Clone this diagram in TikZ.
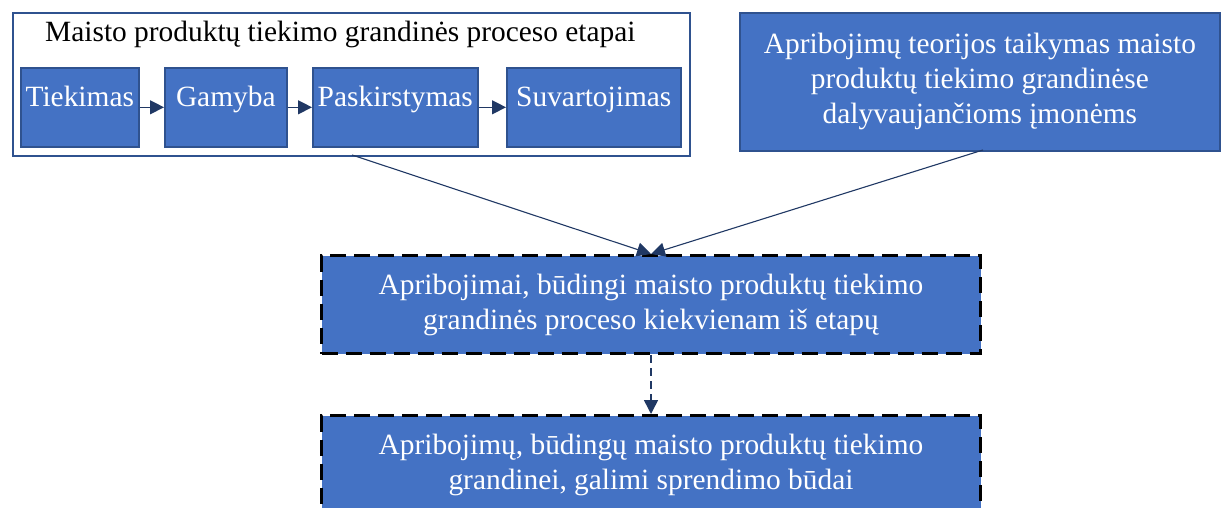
\documentclass[tikz,border=0pt]{standalone}
\usepackage{fontspec}
\setmainfont{Liberation Serif}
\usetikzlibrary{arrows.meta}
\definecolor{boxblue}{HTML}{4472C4}
\definecolor{boxline}{HTML}{2F528F}
\definecolor{arrownavy}{HTML}{203864}
\tikzset{
  stage/.style={draw=boxline, line width=1.6pt, fill=boxblue, text=white, inner sep=0pt,
    text height=39pt, text depth=40pt, anchor=north west},
  flow/.style={draw=arrownavy, line width=1.3pt, -{Triangle[length=14pt,width=14pt]}},
  dashbox/.style={draw=black, line width=3pt, dash pattern=on 16pt off 8pt, fill=boxblue,
    text=white, align=center, anchor=north west, minimum width=659pt, minimum height=98pt, inner sep=0pt}
}
\begin{document}
\begin{tikzpicture}[x=1pt,y=-1pt]\fontsize{29.4}{35}\selectfont
    \useasboundingbox (0,0) rectangle (1221,508);
    \clip (0,0) rectangle (1221,508);
    \node[draw=boxline, line width=1.8pt, fill=white, anchor=north west, inner sep=0pt,
      minimum width=677pt, minimum height=143pt] (stages) at (12,12) {};
    \node[anchor=base west, inner sep=0pt] (stagestitle) at (45,42) {Maisto produktų tiekimo grandinės proceso etapai};
    \node[stage, minimum width=118pt] (supply) at (20,67) {Tiekimas};
    \node[stage, minimum width=122pt] (production) at (164,67) {Gamyba};
    \node[stage, minimum width=165pt] (distribution) at (312,67) {Paskirstymas};
    \node[stage, minimum width=174pt] (consumption) at (506,67) {Suvartojimas};
    \draw[flow] (supply) -- (production);
    \draw[flow] (production) -- (distribution);
    \draw[flow] (distribution) -- (consumption);
    \node[draw=boxline, line width=1.8pt, fill=boxblue, text=white, align=center, anchor=north west,
      inner sep=0pt, minimum width=480pt, minimum height=138pt] (toc) at (739,12)
      {Apribojimų teorijos taikymas maisto\\ produktų tiekimo grandinėse\\ dalyvaujančioms įmonėms};
    \node[dashbox] (limits) at (320,254) {Apribojimai, būdingi maisto produktų tiekimo\\ grandinės proceso kiekvienam iš etapų};
    \node[dashbox] (solutions) at (320,414) {Apribojimų, būdingų maisto produktų tiekimo\\ grandinei, galimi sprendimo būdai};
    \coordinate (stagesout) at (352,155);
    \coordinate (tocout) at (983,150);
    \draw[flow, line width=1.1pt] (stagesout) -- (limits.north);
    \draw[flow, line width=1.1pt] (tocout) -- (limits.north);
    \draw[flow, line width=1.5pt, dash pattern=on 8pt off 5pt] (limits.south) -- (solutions.north);
\end{tikzpicture}
\end{document}
